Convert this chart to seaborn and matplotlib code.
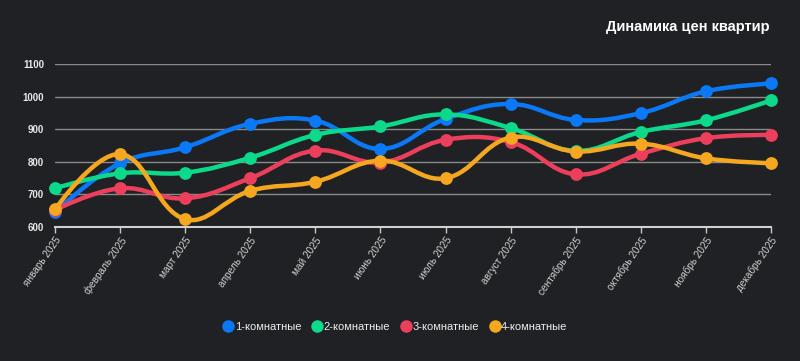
import numpy as np
import matplotlib
matplotlib.use("Agg")
import matplotlib.pyplot as plt
from matplotlib.path import Path
from matplotlib.patches import PathPatch
from matplotlib.lines import Line2D
import seaborn as sns


# ДАННЫЕ

months = [
    "январь 2025", "февраль 2025", "март 2025", "апрель 2025",
    "май 2025", "июнь 2025", "июль 2025", "август 2025",
    "сентябрь 2025", "октябрь 2025", "ноябрь 2025", "декабрь 2025",
]

rooms_1 = [645, 796, 845, 917, 927, 840, 932, 978, 929, 950, 1017, 1041]
rooms_2 = [719, 765, 767, 813, 883, 909, 946, 904, 834, 892, 928, 989]
rooms_3 = [652, 719, 688, 750, 835, 798, 868, 861, 762, 825, 873, 883]
rooms_4 = [654, 824, 624, 711, 739, 804, 750, 875, 832, 856, 811, 796]

series_names = ["1-комнатные", "2-комнатные", "3-комнатные", "4-комнатные"]
series_values = [rooms_1, rooms_2, rooms_3, rooms_4]
colors = ["#0b78f5", "#0cd98a", "#ec3f5c", "#f4a71f"]

y_ticks = [600, 700, 800, 900, 1000, 1100]

BG = "#202124"


# ГРАФИК

sns.set_theme(style="dark")
plt.rcParams["font.family"] = ["Liberation Sans", "DejaVu Sans"]

fig = plt.figure(figsize=(8, 3.61), dpi=100, facecolor=BG)
ax = fig.add_axes([0.06875, 0.3712, 0.895, 0.4507])
ax.set_facecolor(BG)

x = np.arange(len(months))

ax.set_xlim(0, len(months) - 1)
ax.set_ylim(600, 1100)

# масштаб в пикселях для сглаживания как в chart.js
sx = 65.1
sy = 0.3248
tension = 0.4


def smooth_path(xs, ys):
    px = np.array(xs, dtype=float) * sx
    py = np.array(ys, dtype=float) * sy
    n = len(px)
    c_prev = np.zeros((n, 2))
    c_next = np.zeros((n, 2))
    for i in range(n):
        p1 = np.array([px[i], py[i]])
        if i == 0 or i == n - 1:
            c_prev[i] = p1
            c_next[i] = p1
            continue
        p0 = np.array([px[i - 1], py[i - 1]])
        p2 = np.array([px[i + 1], py[i + 1]])
        d01 = np.hypot(*(p1 - p0))
        d12 = np.hypot(*(p2 - p1))
        s01 = d01 / (d01 + d12)
        s12 = d12 / (d01 + d12)
        c_prev[i] = p1 - tension * s01 * (p2 - p0)
        c_next[i] = p1 + tension * s12 * (p2 - p0)
    verts = [(px[0], py[0])]
    codes = [Path.MOVETO]
    for i in range(n - 1):
        verts += [tuple(c_next[i]), tuple(c_prev[i + 1]), (px[i + 1], py[i + 1])]
        codes += [Path.CURVE4] * 3
    verts = [(vx / sx, vy / sy) for vx, vy in verts]
    return Path(verts, codes)


for name, vals, col in zip(series_names, series_values, colors):
    patch = PathPatch(
        smooth_path(x, vals),
        facecolor="none",
        edgecolor=col,
        lw=3.2,
        capstyle="round",
        joinstyle="round",
    )
    patch.set_clip_on(False)
    ax.add_patch(patch)
    sns.scatterplot(
        x=x,
        y=vals,
        ax=ax,
        color=col,
        s=85,
        edgecolor=col,
        linewidth=0,
        clip_on=False,
        zorder=3,
        legend=False,
    )

# сетка и оси
ax.set_yticks(y_ticks)
ax.set_yticklabels([str(v) for v in y_ticks])
for v in y_ticks[1:]:
    ax.axhline(v, color="#8a8a8a", lw=1, zorder=0)
ax.grid(False)

ax.set_xticks(x)
ax.set_xticklabels(months, rotation=55, ha="right", rotation_mode="anchor")

ax.tick_params(axis="y", length=0, pad=8, labelsize=7, labelcolor="#e8e8e8")
ax.tick_params(axis="x", length=4, width=1, color="#c8c8c8", pad=2,
               labelsize=7.2, labelcolor="#d0d0d0", bottom=True)
for lab in ax.get_yticklabels():
    lab.set_fontweight("bold")

for side in ["top", "right", "left"]:
    ax.spines[side].set_visible(False)
ax.spines["bottom"].set_color("#d0d0d0")
ax.spines["bottom"].set_linewidth(1.5)

ax.set_xlabel("")
ax.set_ylabel("")

# заголовок
fig.text(0.9625, 0.925, "Динамика цен квартир", color="white",
         fontsize=10.5, fontweight="bold", ha="right", va="center")

# легенда
handles = [
    Line2D([], [], marker="o", linestyle="none", markersize=9,
           markerfacecolor=c, markeredgewidth=0, label=n)
    for n, c in zip(series_names, colors)
]
fig.legend(handles=handles, loc="center", bbox_to_anchor=(0.494, 0.094),
           ncol=4, frameon=False, fontsize=8, labelcolor="#eeeeee",
           handletextpad=0.1, columnspacing=0.9, handlelength=1.0)

plt.savefig("out.png", dpi=100, facecolor=BG)
